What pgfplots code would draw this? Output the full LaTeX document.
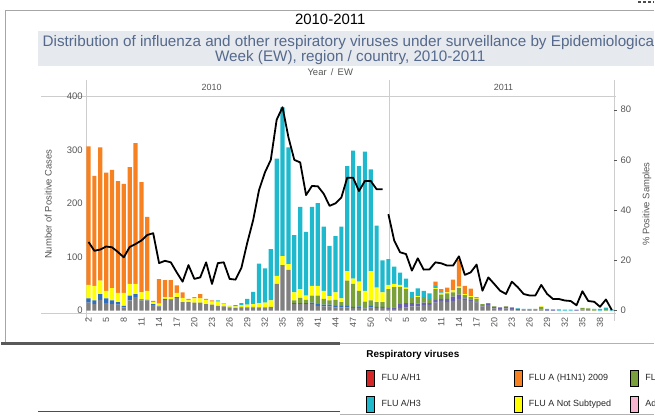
\documentclass[border=0pt]{standalone}
\usepackage{pgfplots}
\pgfplotsset{compat=1.18}
\usepackage{pgfplotstable}
\usepackage{fontspec}
\setmainfont{Liberation Sans}

\definecolor{cgray}{RGB}{128,128,128}
\definecolor{cblue}{RGB}{47,110,190}
\definecolor{cpurple}{RGB}{105,95,175}
\definecolor{cgreen}{RGB}{122,160,60}
\definecolor{cyellow}{RGB}{255,255,0}
\definecolor{ccyan}{RGB}{30,185,205}
\definecolor{corange}{RGB}{247,129,32}
\definecolor{cred}{RGB}{214,39,40}
\definecolor{cpink}{RGB}{246,182,208}
\definecolor{linegray}{RGB}{205,205,205}
\definecolor{tickgray}{RGB}{85,85,85}
\definecolor{subblue}{RGB}{85,105,140}
\definecolor{band}{RGB}{230,233,238}

% k = bar index: 2010 week w -> w-2, 2011 week w -> w+49
\pgfplotstableread{
k gray blue purple green yellow cyan orange
0 15 8 0 0 25 0 259
1 12 7 0 0 27 0 206
2 20 11 0 0 25 0 249
3 14 9 0 0 14 0 221
4 12 7 0 0 23 0 221
5 11 5 0 0 17 0 209
6 6 3 0 0 24 0 204
7 19 9 0 0 22 0 218
8 25 6 0 0 19 0 263
9 19 2 0 0 13 0 206
10 19 1 0 0 17 0 138
11 10 2 0 0 4 0 2
12 8 1 0 0 4 0 46
13 20 2 0 0 3 0 32
14 20 1 0 0 4 0 32
15 24 1 0 0 8 0 14
16 16 0 0 0 8 0 10
17 16 0 0 0 4 0 2
18 15 0 0 0 8 0 2
19 15 0 0 0 8 0 8
20 12 0 0 0 8 0 2
21 11 0 0 0 6 0 2
22 9 0 0 0 8 2 0
23 8 0 0 0 5 1 0
24 6 0 0 0 2 1 0
25 5 0 0 0 3 2 0
26 6 0 0 1 3 4 0
27 5 0 0 1 5 11 0
28 6 0 0 1 5 23 0
29 6 0 0 0 8 74 0
30 6 0 0 0 9 64 0
31 7 0 0 0 12 96 0
32 50 0 0 0 15 219 0
33 85 0 0 0 17 278 0
34 76 0 0 0 11 218 0
35 12 2 0 5 15 107 0
36 12 2 0 10 16 154 0
37 12 2 0 6 8 119 0
38 12 3 0 13 18 148 0
39 9 3 0 16 18 155 0
40 8 3 0 11 15 120 0
41 8 3 0 8 8 94 0
42 6 3 0 11 14 105 0
43 6 3 0 7 7 134 0
44 6 3 0 47 18 196 0
45 5 2 0 43 10 239 0
46 5 3 0 29 17 216 0
47 4 2 0 11 20 260 0
48 6 3 0 10 55 190 0
49 5 2 0 9 27 116 0
50 5 2 0 9 18 60 0
51 3 0 2 35 8 48 0
52 3 0 3 38 6 32 0
53 5 0 7 32 4 23 0
54 6 0 8 26 3 17 0
55 8 0 6 10 0 11 0
56 8 0 5 12 2 14.5 0
57 10 0 5 10 0 12 0
58 10 0 4 8 0 10 0
59 15 0 5 20 2 4 8
60 18 0 4 8 2 2 6
61 16 0 6 10 2 0 9
62 18 0 8 8 4 0 20
63 22 0 8 12 3 0 50
64 20 0 3 6 2 0 15
65 18 0 3 4 2 0 14
66 15 0 1 6 1 0 2
67 8 0 1 3 0 0 0
68 10 0 2 2 0 0 0
69 4 0 3 1 0 0 0
70 3 0 3 0 0 0 0
71 4 0 3 1 0 0 0
72 3 0 2 1 0 0 0
73 1 0 2 0 0 1 0
74 1 0 1 0 0 1 0
75 1 0 1 0 0 1 0
76 1 0 1 1 0 0 0
77 2 0 0 5 1 0 0
78 0 0 1 0 0 2 0
79 0 0 1 0 0 1.5 0
80 0 0 0 0 0 2.5 0
81 0 0 0 0 0 2 0
82 0 0 0 0 0 2 0
83 0 0 1 0 0 1 0
84 2 0 0 3 0 0 0
85 1 0 0 3 0 0 0
86 0 0 0 2 0 1 0
87 0 0 0 0 0 3 0
88 0 0 0 3 0 2.5 0
89 0 0 0 0 0 2 0
}\bars

\pgfplotstableread{
k pct
0 27.3
1 23.8
2 24.3
3 25.5
4 25.2
5 23.3
6 21.2
7 25.3
8 26.5
9 27.9
10 30.1
11 30.8
12 18.9
13 19.8
14 19.2
15 15.2
16 11.5
17 18.1
18 12.6
19 13.2
20 19.2
21 10.6
22 18.9
23 19.2
24 12.6
25 12.3
26 17
27 27
28 36
29 48
30 55
31 60
32 76
33 81
34 69
35 60
36 59
37 46
38 49.6
39 49.5
40 46.5
41 41.7
42 42.7
43 45
44 52.9
45 52.9
46 47.6
47 51.6
48 51.6
49 48.3
50 48.3
}\lineA

\pgfplotstableread{
k pct
51 38.4
52 27.8
53 23.2
54 22.5
55 15.9
56 20.8
57 16.3
58 16.4
59 19.2
60 18.8
61 17.9
62 17.9
63 21.6
64 14.2
65 15.2
66 18.3
67 7.9
68 13.2
69 10.6
70 7.9
71 6.6
72 11.5
73 9.3
74 6.6
75 6
76 6
77 10.2
78 6.6
79 4.6
80 4.6
81 4
82 3.8
83 2.1
84 7.7
85 3.8
86 3.5
87 1.5
88 4.4
89 0.2
}\lineB

\begin{document}
\begin{tikzpicture}[x=1pt,y=1pt]
\path (0,0) rectangle (655,418);

% frame and bands
\draw[color=gray!70] (4,73) -- (4,408) -- (655,408);
\fill[band] (37,352) rectangle (655,387);
\node[font=\fontsize{15}{18}\selectfont] at (330,399) {2010-2011};
\node[overlay, anchor=base, font=\fontsize{15.3}{17}\selectfont, text=subblue] at (350,371)
  {Distribution of influenza and other respiratory viruses under surveillance by Epidemiological};
\node[anchor=base, font=\fontsize{15.3}{17}\selectfont, text=subblue] at (350,356)
  {Week (EW), region / country, 2010-2011};
\node[anchor=base, font=\fontsize{9.5}{11}\selectfont, text=tickgray] at (330,342) {Year \,/\, EW};
\node[anchor=base, font=\fontsize{9}{11}\selectfont, text=tickgray] at (211,327) {2010};
\node[anchor=base, font=\fontsize{9}{11}\selectfont, text=tickgray] at (504,327) {2011};

% pane lines
\draw[linegray] (40,321) -- (617,321);
\draw[linegray] (40,104) -- (617,104);
\draw[linegray] (85,96) -- (85,338);
\draw[linegray] (389,96) -- (389,338);
\draw[linegray] (615,96) -- (615,338);

\begin{axis}[
  at={(85pt,103pt)}, anchor=south west,
  scale only axis, width=530pt, height=218pt,
  xmin=-0.4, xmax=89.4, ymin=-6, ymax=400,
  ybar stacked, bar width=4.2pt,
  axis x line*=bottom, axis y line*=left,
  axis line style={draw=none},
  xtick style={draw=none}, ytick style={draw=none},
  xtick={0,3,...,48,51,54,...,87},
  xticklabels={2,5,8,11,14,17,20,23,26,29,32,35,38,41,44,47,50,2,5,8,11,14,17,20,23,26,29,32,35,38},
  xticklabel style={rotate=90, anchor=east, font=\fontsize{9}{10}\selectfont, text=tickgray},
  ytick={0,100,200,300,400},
  yticklabel style={font=\fontsize{9.5}{10}\selectfont, text=tickgray},
  /pgf/number format/assume math mode=true,
  scaled y ticks=false,
  ylabel={Number of Positive Cases},
  ylabel style={at={(axis description cs:-0.072,0.505)}, anchor=center,
    font=\fontsize{9.5}{11}\selectfont, text=tickgray},
  legend columns=3,
  legend cell align=left,
  legend image code/.code={\fill[#1] (0pt,-8pt) rectangle (8pt,8pt);},
  legend style={overlay, at={(axis description cs:0.530,-0.257)}, anchor=north west,
    draw=none, fill=none, inner sep=0pt, row sep=10pt,
    font=\fontsize{9}{10}\selectfont, text=black!85,
    /tikz/every odd column/.append style={column sep=5pt},
    /tikz/column 2/.style={column sep=91pt},
    /tikz/column 4/.style={column sep=17pt}},
]
\addlegendimage{fill=cred}\addlegendentry{FLU A/H1}
\addlegendimage{fill=corange}\addlegendentry{FLU A (H1N1) 2009}
\addlegendimage{fill=cgreen}\addlegendentry{FLU B}
\addlegendimage{fill=ccyan}\addlegendentry{FLU A/H3}
\addlegendimage{fill=cyellow}\addlegendentry{FLU A Not Subtyped}
\addlegendimage{fill=cpink}\addlegendentry{Adenovirus}
\addplot[fill=cgray, draw=none] table[x=k, y=gray] {\bars};
\addplot[fill=cblue, draw=none] table[x=k, y=blue] {\bars};
\addplot[fill=cpurple, draw=none] table[x=k, y=purple] {\bars};
\addplot[fill=cgreen, draw=none] table[x=k, y=green] {\bars};
\addplot[fill=cyellow, draw=none] table[x=k, y=yellow] {\bars};
\addplot[fill=ccyan, draw=none] table[x=k, y=cyan] {\bars};
\addplot[fill=corange, draw=none] table[x=k, y=orange] {\bars};
\end{axis}

\begin{axis}[
  at={(85pt,103pt)}, anchor=south west,
  scale only axis, width=530pt, height=218pt,
  xmin=-0.4, xmax=89.4, ymin=-1.3, ymax=85.2,
  axis x line=none, axis y line*=right,
  axis line style={draw=none},
  ytick={0,20,40,60,80},
  ytick style={draw=tickgray}, major tick length=3pt, tick align=outside,
  yticklabel style={font=\fontsize{9.5}{10}\selectfont, text=tickgray},
  /pgf/number format/assume math mode=true,
  ylabel={\% Positive Samples},
  ylabel style={at={(axis description cs:1.062,0.505)}, anchor=center,
    font=\fontsize{9.5}{11}\selectfont, text=tickgray},
]
\addplot[black, line width=1.8pt, line join=round] table[x=k, y=pct] {\lineA};
\addplot[black, line width=1.8pt, line join=round] table[x=k, y=pct] {\lineB};
\end{axis}

% legend title and bottom rules
\node[anchor=west, inner sep=0pt, font=\bfseries\fontsize{10}{12}\selectfont] at (366,62) {Respiratory viruses};
\draw[line width=3pt, color=black!65] (0,73) -- (340,73);
\draw[color=gray!60] (340,73) -- (655,73);
\draw[color=gray!60] (340,2) -- (655,2);
\draw[color=black!70] (37,5) -- (340,5);
\draw[line width=2pt, color=black!70, dash pattern=on 3pt off 2pt] (639,415.5) -- (655,415.5);
\end{tikzpicture}
\end{document}
